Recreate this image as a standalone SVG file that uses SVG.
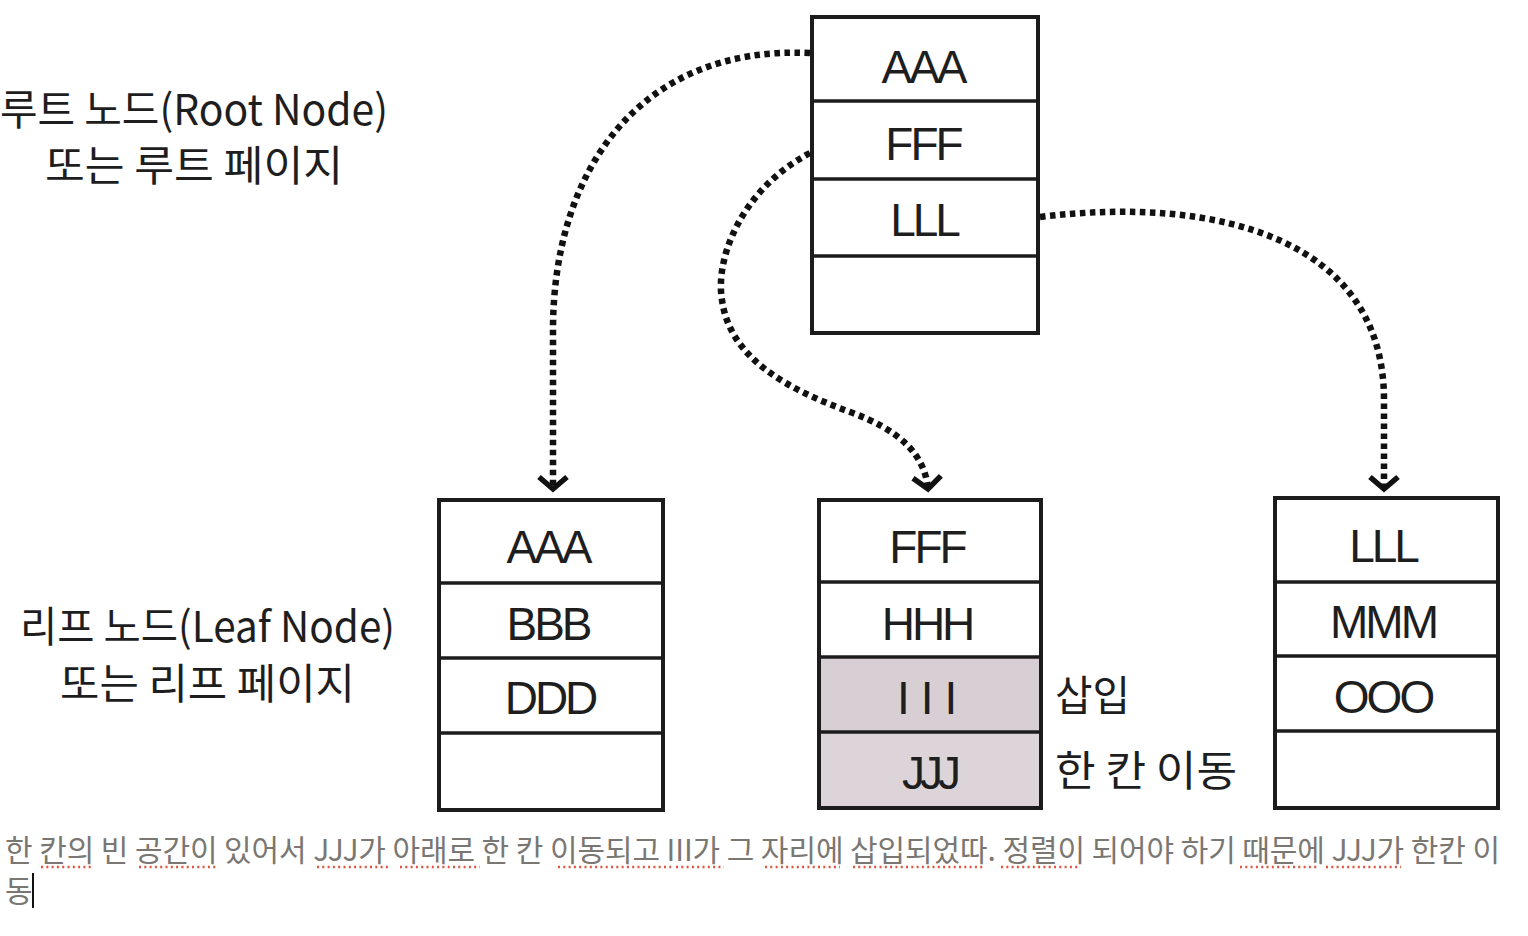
<svg xmlns="http://www.w3.org/2000/svg" width="1528" height="936" viewBox="0 0 1528 936">
<style>
.box{fill:#fff;stroke:#1c1c1c;stroke-width:4}
.shade{fill:#d7cfd4;stroke:none}
.shade2{fill:#ddd4da;stroke:none}
.div{stroke:#1c1c1c;stroke-width:3.5}
.k{font-family:"Liberation Sans",Arial,sans-serif;font-size:46px;fill:#1e1e1e;text-anchor:middle;letter-spacing:-3px}
.lbl{font-family:"Noto Sans CJK KR","Noto Sans",sans-serif;font-size:42px;fill:#1e1e1e}
.conn{fill:none;stroke:#111;stroke-width:6.5;stroke-dasharray:5.5 4.5;marker-end:url(#chev)}
.cap{font-family:"Noto Sans CJK KR","Noto Sans",sans-serif;font-size:30px;fill:#7a7773}
.ul{stroke:#e0533d;stroke-width:2.5;stroke-dasharray:2 3.3;fill:none}
</style>
<defs>
<marker id="chev" markerUnits="userSpaceOnUse" markerWidth="40" markerHeight="40" viewBox="-20 -20 40 40" refX="0" refY="0" orient="auto" overflow="visible">
<path d="M-12,-14 L0,0 L-12,14" fill="none" stroke="#111" stroke-width="5.5" stroke-dasharray="none"/>
</marker>
</defs>
<rect width="1528" height="936" fill="#fff"/>

<g id="labels">
<text class="lbl" x="0" y="125" textLength="388" lengthAdjust="spacingAndGlyphs">루트 노드(Root Node)</text>
<text class="lbl" x="45" y="181" textLength="298" lengthAdjust="spacingAndGlyphs">또는 루트 페이지</text>
<text class="lbl" x="20" y="642" textLength="375" lengthAdjust="spacingAndGlyphs">리프 노드(Leaf Node)</text>
<text class="lbl" x="60" y="699" textLength="295" lengthAdjust="spacingAndGlyphs">또는 리프 페이지</text>
<text class="lbl" x="1055" y="711" textLength="75" lengthAdjust="spacingAndGlyphs">삽입</text>
<text class="lbl" x="1055" y="786" textLength="182" lengthAdjust="spacingAndGlyphs">한 칸 이동</text>
</g>

<g id="connectors">
<path class="conn" d="M810,53 C640,45 553,170 553,330 L553,489"/>
<path class="conn" d="M810,153 C740,190 715,260 722,300 C730,360 790,390 850,412 C900,430 925,455 928,489"/>
<path class="conn" d="M1040,217 C1220,195 1384,240 1384,400 L1384,489"/>
</g>

<g id="root">
<rect class="box" x="812" y="17" width="226" height="316"/>
<line class="div" x1="812" y1="101" x2="1038" y2="101"/>
<line class="div" x1="812" y1="179" x2="1038" y2="179"/>
<line class="div" x1="812" y1="256" x2="1038" y2="256"/>
<text class="k" x="923" y="83">AAA</text>
<text class="k" x="923" y="160">FFF</text>
<text class="k" x="924" y="236">LLL</text>
</g>

<g id="leaf1">
<rect class="box" x="439" y="500" width="224" height="310"/>
<line class="div" x1="439" y1="583" x2="663" y2="583"/>
<line class="div" x1="439" y1="658" x2="663" y2="658"/>
<line class="div" x1="439" y1="733" x2="663" y2="733"/>
<text class="k" x="548" y="563">AAA</text>
<text class="k" x="548" y="640">BBB</text>
<text class="k" x="550" y="714">DDD</text>
</g>

<g id="leaf2">
<rect class="box" x="819" y="500" width="222" height="308"/>
<rect class="shade" x="821" y="658" width="218" height="74"/>
<rect class="shade2" x="821" y="733" width="218" height="73"/>
<rect x="819" y="500" width="222" height="308" fill="none" stroke="#1c1c1c" stroke-width="4"/>
<line class="div" x1="819" y1="582" x2="1041" y2="582"/>
<line class="div" x1="819" y1="657" x2="1041" y2="657"/>
<line class="div" x1="819" y1="732" x2="1041" y2="732"/>
<text class="k" x="927" y="563">FFF</text>
<text class="k" x="927" y="640">HHH</text>
<text class="k" x="897" y="714" style="text-anchor:start;letter-spacing:11px">III</text>
<text class="k" x="929" y="789" style="letter-spacing:-5px">JJJ</text>
</g>

<g id="leaf3">
<rect class="box" x="1275" y="498" width="223" height="310"/>
<line class="div" x1="1275" y1="582" x2="1498" y2="582"/>
<line class="div" x1="1275" y1="656" x2="1498" y2="656"/>
<line class="div" x1="1275" y1="731" x2="1498" y2="731"/>
<text class="k" x="1383" y="562">LLL</text>
<text class="k" x="1383" y="638">MMM</text>
<text class="k" x="1383" y="713">OOO</text>
</g>

<g id="caption">
<text class="cap" x="5" y="861" textLength="1495" lengthAdjust="spacing">한 칸의 빈 공간이 있어서 JJJ가 아래로 한 칸 이동되고 III가 그 자리에 삽입되었따. 정렬이 되어야 하기 때문에 JJJ가 한칸 이</text>
<text class="cap" x="5" y="902">동</text>
<line x1="33" y1="873" x2="33" y2="908" stroke="#111" stroke-width="2"/>
<path class="ul" d="M41,867 H93 M139,867 H217 M317,867 H390 M400,867 H480 M558,867 H671 M676,867 H724 M765,867 H840 M853,867 H984 M1001,867 H1080 M1240,867 H1318 M1326,867 H1401"/>
</g>
</svg>
